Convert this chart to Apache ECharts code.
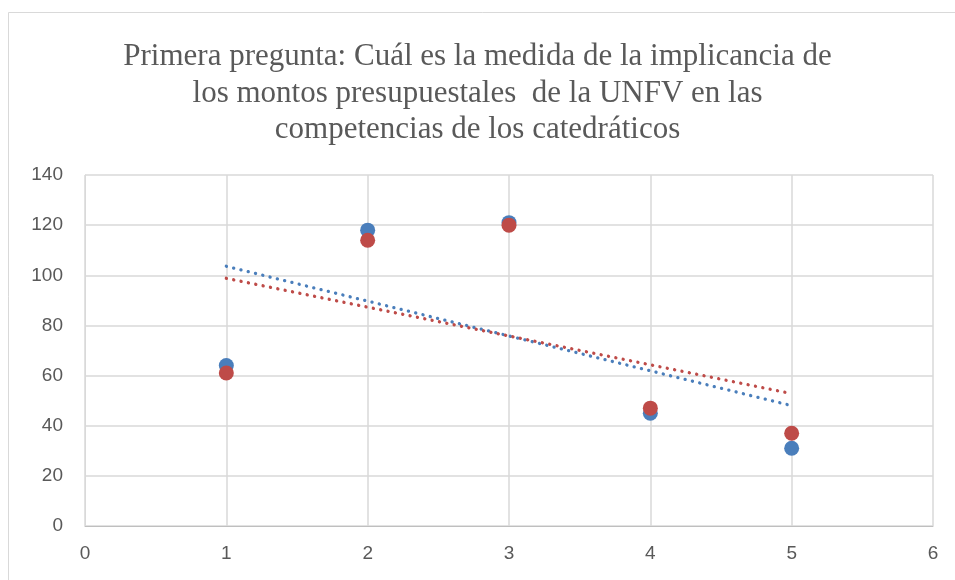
<!DOCTYPE html>
<html>
<head>
<meta charset="utf-8">
<script src="https://cdn.jsdelivr.net/npm/echarts@6/dist/echarts.min.js"></script>
<style>
  html, body { margin: 0; padding: 0; background: #fff; }
  #chart { width: 955px; height: 580px; }
</style>
</head>
<body>
<div id="chart"></div>
<script>
// datos
const xValues = [1, 2, 3, 4, 5];
const serieAzul = [64, 118, 121, 45, 31];
const serieRoja = [61, 114, 120, 47, 37];
const yTicks = [0, 20, 40, 60, 80, 100, 120, 140];

const titulo = 'Primera pregunta: Cuál es la medida de la implicancia de\nlos montos presupuestales  de la UNFV en las\ncompetencias de los catedráticos';

// recta de tendencia lineal (minimos cuadrados)
function tendencia(xs, ys) {
  let n = xs.length, mx = 0, my = 0;
  for (let i = 0; i < n; i++) { mx += xs[i]; my += ys[i]; }
  mx /= n; my /= n;
  let sxy = 0, sxx = 0;
  for (let i = 0; i < n; i++) {
    sxy += (xs[i] - mx) * (ys[i] - my);
    sxx += (xs[i] - mx) * (xs[i] - mx);
  }
  const b = sxy / sxx, a = my - b * mx;
  const x0 = xs[0], x1 = xs[n - 1];
  return [[x0, a + b * x0], [x1, a + b * x1]];
}

const azul = '#4a7ebb';
const roja = '#be4b48';

const chart = echarts.init(document.getElementById('chart'));
const option = {
  backgroundColor: '#fff',
  animation: false,
  title: {
    text: titulo,
    left: 'center',
    top: 34,
    textStyle: {
      fontFamily: 'Liberation Serif',
      fontWeight: 'normal',
      fontSize: 31,
      lineHeight: 36.5,
      color: '#595959'
    }
  },
  graphic: [{
    type: 'rect',
    left: 6, top: 10,
    shape: { width: 960, height: 580 },
    style: { fill: 'none', stroke: '#d9d9d9', lineWidth: 1 },
    z: -1
  }],
  grid: { left: 85, right: 22, top: 175, bottom: 54 },
  xAxis: {
    type: 'value',
    min: 0, max: 6, interval: 1,
    axisLine: { show: true, lineStyle: { color: '#bfbfbf' } },
    axisTick: { show: false },
    splitLine: { show: true, lineStyle: { color: '#d9d9d9', width: 1.5 } },
    axisLabel: { color: '#595959', fontSize: 19, fontFamily: 'Liberation Sans', margin: 18 }
  },
  yAxis: {
    type: 'value',
    min: yTicks[0], max: yTicks[yTicks.length - 1], interval: 20,
    axisLine: { show: true, lineStyle: { color: '#d9d9d9' } },
    axisTick: { show: false },
    splitLine: { show: true, lineStyle: { color: '#d9d9d9', width: 1.5 } },
    axisLabel: { color: '#595959', fontSize: 19, fontFamily: 'Liberation Sans', margin: 22 }
  },
  series: [
    {
      name: 'tendencia azul',
      type: 'line',
      data: tendencia(xValues, serieAzul),
      symbol: 'none',
      lineStyle: { color: azul, width: 3.3, type: [0.1, 7.4], cap: 'round' },
      z: 1
    },
    {
      name: 'tendencia roja',
      type: 'line',
      data: tendencia(xValues, serieRoja),
      symbol: 'none',
      lineStyle: { color: roja, width: 3.3, type: [0.1, 7.4], cap: 'round' },
      z: 1
    },
    {
      name: 'azul',
      type: 'scatter',
      data: xValues.map((x, i) => [x, serieAzul[i]]),
      symbolSize: 15,
      itemStyle: { color: azul, opacity: 1 },
      z: 3
    },
    {
      name: 'roja',
      type: 'scatter',
      data: xValues.map((x, i) => [x, serieRoja[i]]),
      symbolSize: 15,
      itemStyle: { color: roja, opacity: 1 },
      z: 4
    }
  ]
};
chart.setOption(option);
</script>
</body>
</html>
